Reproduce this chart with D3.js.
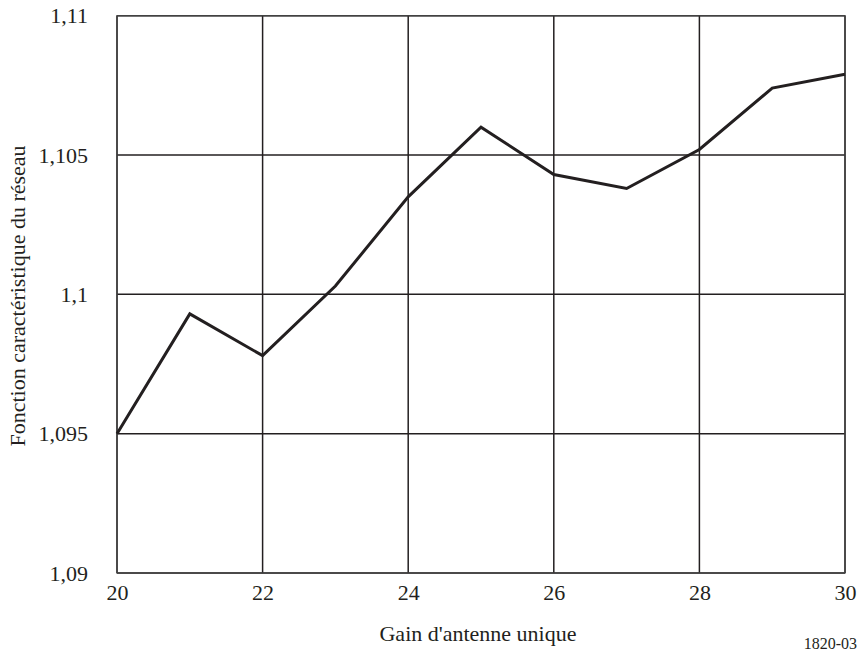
<!DOCTYPE html>
<html>
<head>
<meta charset="utf-8">
<script src="https://cdn.jsdelivr.net/npm/d3@7"></script>
<style>
  html, body { margin: 0; padding: 0; background: #fff; }
  svg { display: block; }
  text { font-family: "Liberation Serif", "Times New Roman", serif; fill: #231f20; }
</style>
</head>
<body>
<svg id="chart" width="862" height="654"></svg>
<script>
// Gain d'antenne unique (dB) and network characteristic function
const gains = [20, 21, 22, 23, 24, 25, 26, 27, 28, 29, 30];
const networkValues = [1.095, 1.0993, 1.0978, 1.1003, 1.1035, 1.1060, 1.1043, 1.1038, 1.1052, 1.1074, 1.1079];
const xTicks = [20, 22, 24, 26, 28, 30];
const yTicks = [1.09, 1.095, 1.1, 1.105, 1.11];
const yTickLabels = ["1,09", "1,095", "1,1", "1,105", "1,11"];

const svg = d3.select("#chart");
const plotLeft = 117, plotRight = 845, plotTop = 15.7, plotBottom = 573;

const x = d3.scaleLinear().domain([20, 30]).range([plotLeft, plotRight]);
const y = d3.scaleLinear().domain([1.09, 1.11]).range([plotBottom, plotTop]);

const ink = "#231f20";
const serif = '"Liberation Serif", "Times New Roman", serif';

// Grid lines
const grid = svg.append("g");
grid.selectAll("line.v").data(xTicks).join("line")
  .attr("class", "v")
  .attr("x1", d => x(d)).attr("x2", d => x(d))
  .attr("y1", plotTop).attr("y2", plotBottom)
  .attr("stroke", ink).attr("stroke-width", 1.5);
grid.selectAll("line.h").data(yTicks).join("line")
  .attr("class", "h")
  .attr("x1", plotLeft).attr("x2", plotRight)
  .attr("y1", d => y(d)).attr("y2", d => y(d))
  .attr("stroke", ink).attr("stroke-width", 1.5);

// Frame
svg.append("rect")
  .attr("x", plotLeft).attr("y", plotTop)
  .attr("width", plotRight - plotLeft).attr("height", plotBottom - plotTop)
  .attr("fill", "none").attr("stroke", "#444").attr("stroke-width", 1.3);

// Axes (labels only)
const xAxis = d3.axisBottom(x).tickValues(xTicks).tickSize(0).tickPadding(0)
  .tickFormat(d => String(d));
const gx = svg.append("g").attr("transform", `translate(0,${plotBottom})`).call(xAxis);
gx.select(".domain").remove();
gx.attr("font-family", serif).attr("font-size", 22);
gx.selectAll("text")
  .attr("y", 27).attr("dy", null)
  .attr("fill", ink);

const yAxis = d3.axisLeft(y).tickValues(yTicks).tickSize(0).tickPadding(0)
  .tickFormat((d, i) => yTickLabels[i]);
const gy = svg.append("g").attr("transform", `translate(${plotLeft},0)`).call(yAxis);
gy.select(".domain").remove();
gy.attr("font-family", serif).attr("font-size", 22);
gy.selectAll("text")
  .attr("x", -29).attr("dy", "0.32em")
  .attr("fill", ink);

// Data line
const line = d3.line().x((d, i) => x(gains[i])).y(d => y(d));
svg.append("path")
  .datum(networkValues)
  .attr("d", line)
  .attr("fill", "none")
  .attr("stroke", ink)
  .attr("stroke-width", 3)
  .attr("stroke-linejoin", "miter");

// Axis titles
svg.append("text")
  .attr("x", 478).attr("y", 641)
  .attr("text-anchor", "middle")
  .style("font-size", "22px")
  .text("Gain d'antenne unique");

svg.append("text")
  .attr("transform", "translate(25,296) rotate(-90)")
  .attr("text-anchor", "middle")
  .style("font-size", "22px")
  .text("Fonction caractéristique du réseau");

svg.append("text")
  .attr("x", 857).attr("y", 649)
  .attr("text-anchor", "end")
  .style("font-size", "16px")
  .text("1820-03");
</script>
</body>
</html>
